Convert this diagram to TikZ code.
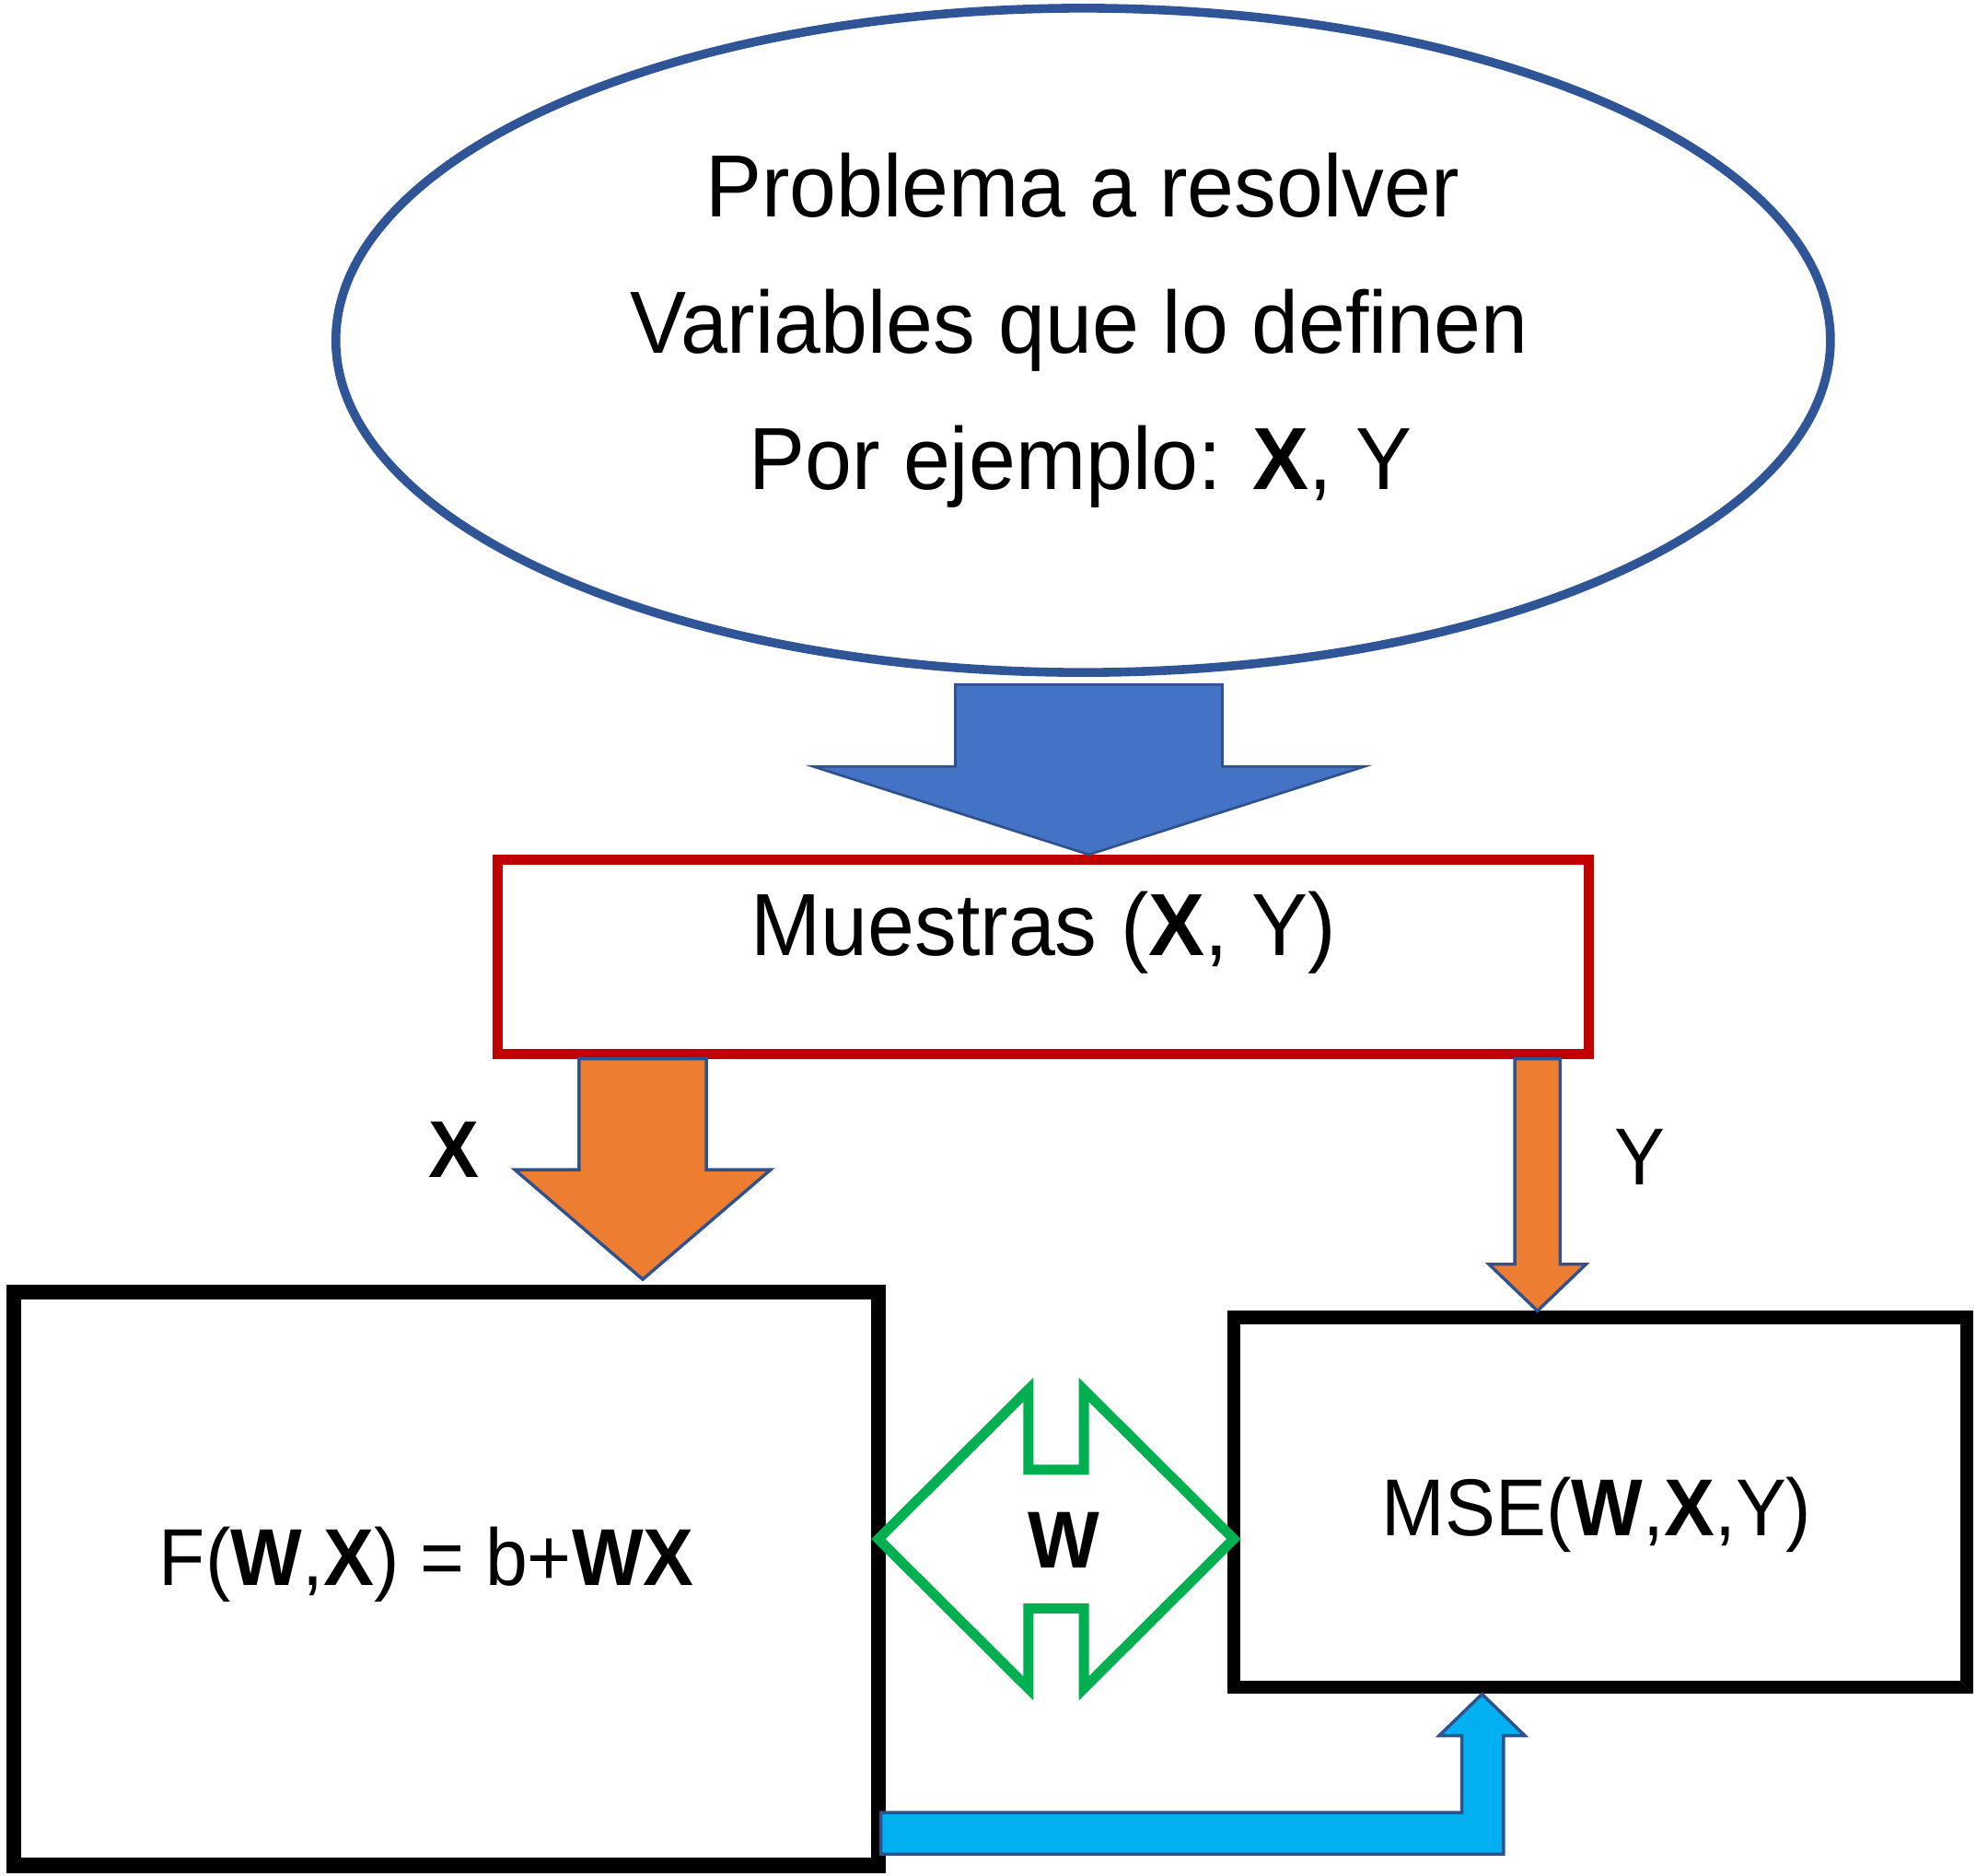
\documentclass[tikz,border=0pt]{standalone}
\usepackage{fontspec}
\setmainfont{Liberation Sans}
\usepackage{graphicx}
\usetikzlibrary{shapes.geometric,calc}
\definecolor{ellblue}{HTML}{2F5597}
\definecolor{arrblue}{HTML}{4472C4}
\definecolor{edgeblue}{HTML}{2F528F}
\definecolor{boxred}{HTML}{C00000}
\definecolor{orng}{HTML}{ED7D31}
\definecolor{grn}{HTML}{00B050}
\definecolor{cyn}{HTML}{00B0F0}
\newcommand{\bigtxt}[1]{\scalebox{0.955}[1]{#1}}
\newcommand{\midtxt}[1]{\scalebox{0.94}[1]{#1}}
% #1 style, #2 tail coordinate, #3 tip coordinate, #4 half shaft, #5 half head, #6 head length
\newcommand{\downblock}[6]{%
  \draw[#1] let \p1=(#2), \p2=(#3) in
    (\x2-#4,\y1) -- (\x2+#4,\y1) -- (\x2+#4,\y2+#6) -- (\x2+#5,\y2+#6) --
    (\x2,\y2) -- (\x2-#5,\y2+#6) -- (\x2-#4,\y2+#6) -- cycle;}
\begin{document}
\begin{tikzpicture}[x=1pt,y=-1pt,
  bigfont/.style={font=\fontsize{70}{84}\selectfont},
  midfont/.style={font=\fontsize{64}{76}\selectfont},
  txt/.style={anchor=base,inner sep=0pt,text=black},
  blackbox/.style={draw=black,rectangle,inner sep=0pt},
  blockblue/.style={fill=arrblue,draw=edgeblue,line width=2pt,line join=miter},
  blockorange/.style={fill=orng,draw=edgeblue,line width=2.5pt,line join=miter},
  blockcyan/.style={fill=cyn,draw=edgeblue,line width=2.5pt,line join=miter},
  greenarrow/.style={draw=grn,line width=8pt,line join=miter,miter limit=10}]
\useasboundingbox (0,0) rectangle (1568,1488);
\fill[white] (0,0) rectangle (1568,1488);

% ellipse
\node[ellipse,draw=ellblue,line width=7pt,minimum width=1186pt,minimum height=527pt,inner sep=0pt]
  (prob) at (859.5,270) {};
\node[txt,bigfont] (l1) at (859,172) {\bigtxt{Problema a resolver}};
\node[txt,bigfont] (l2) at (856.5,280) {\bigtxt{Variables que lo definen}};
\node[txt,bigfont] (l3) at (857.5,388) {\bigtxt{Por ejemplo: \textbf{X}, Y}};

% samples box
\node[draw=boxred,rectangle,line width=8pt,minimum width=866pt,minimum height=154pt,inner sep=0pt]
  (muestras) at (828,759) {};
\node[txt,bigfont] (mt) at (828,758) {\bigtxt{Muestras (\textbf{X}, Y)}};

% function box
\node[blackbox,line width=12pt,minimum width=686pt,minimum height=455pt] (fbox) at (354,1252.5) {};
\node[txt,midfont] (ft) at (338.5,1258) {\midtxt{F(\textbf{W},\textbf{X}) = b+\textbf{WX}}};

% MSE box
\node[blackbox,line width=10.5pt,minimum width=581.5pt,minimum height=293.5pt] (mse) at (1270,1192) {};
\node[txt,midfont] (mt2) at (1267,1218) {\midtxt{MSE(\textbf{W},\textbf{X},Y)}};

% big blue arrow
\coordinate (blueTail) at ([xshift=4.5pt,yshift=-6pt]prob.south);
\coordinate (blueTip) at ([xshift=36pt]muestras.north);
\downblock{blockblue}{blueTail}{blueTip}{106pt}{219pt}{70pt}

% orange X arrow
\coordinate (xTail) at ([xshift=-318pt]muestras.south);
\coordinate (xTip) at ([yshift=4pt]xTail |- fbox.north);
\downblock{blockorange}{xTail}{xTip}{50.5pt}{101.5pt}{87pt}
\node[txt,midfont] (xl) at (360,934) {\midtxt{\textbf{X}}};

% orange Y arrow
\coordinate (yTail) at ([xshift=392pt]muestras.south);
\coordinate (yTip) at (yTail |- mse.north);
\downblock{blockorange}{yTail}{yTip}{18pt}{38.5pt}{37pt}
\node[txt,midfont] (yl) at (1301,940) {\midtxt{Y}};

% green double arrow
\coordinate (wc) at (838,1221);
\draw[greenarrow] ([xshift=-141pt]wc) -- ++(119,-118.5) -- ++(0,63.5) -- ++(44,0) -- ++(0,-63.5)
  -- ++(119,118.5) -- ++(-119,118.5) -- ++(0,-63.5) -- ++(-44,0) -- ++(0,63.5) -- cycle;
\node[txt,midfont] (wl) at (844,1244) {\midtxt{\textbf{W}}};

% cyan bent arrow
\coordinate (cyanTip) at ([xshift=-94pt]mse.south);
\draw[blockcyan] let \p1=(fbox.east), \p2=(cyanTip) in
  (\x1-4pt,\y2-94pt) -- (\x2-16pt,\y2-94pt) -- (\x2-16pt,\y2-33pt) -- (\x2-34pt,\y2-33pt) --
  (\x2,\y2) -- (\x2+34pt,\y2-33pt) -- (\x2+17pt,\y2-33pt) -- (\x2+17pt,\y2-127pt) --
  (\x1-4pt,\y2-127pt) -- cycle;
\end{tikzpicture}
\end{document}
